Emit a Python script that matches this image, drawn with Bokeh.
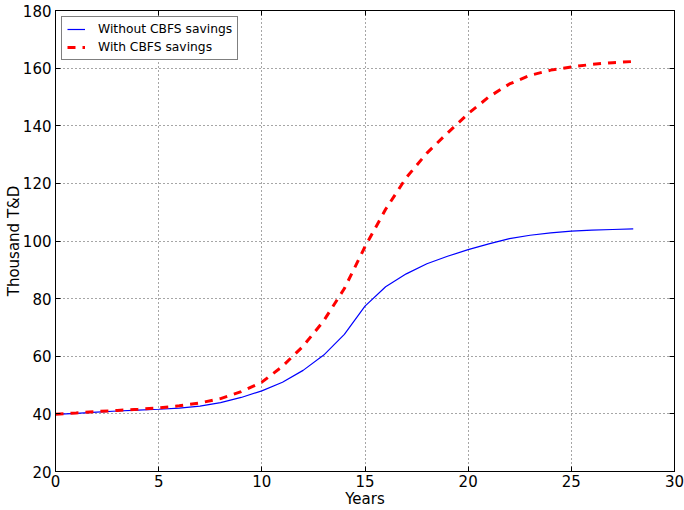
from bokeh.plotting import figure
from bokeh.models import LinearAxis, FixedTicker, Range1d, Legend, LegendItem
from bokeh.embed import file_html
from bokeh.resources import INLINE

years = list(range(0, 29))
without_cbfs = [39.8, 40.2, 40.6, 41.0, 41.3, 41.6, 42.0, 42.7, 43.9, 45.7,
                48.0, 51.0, 55.1, 60.4, 67.6, 77.4, 84.1, 88.6, 92.1, 94.7,
                97.0, 99.0, 100.8, 102.0, 102.8, 103.4, 103.8, 104.0, 104.2]
with_cbfs = [39.9, 40.3, 40.8, 41.2, 41.6, 42.1, 42.8, 43.8, 45.3, 47.7,
             51.0, 56.5, 63.5, 72.3, 83.5, 98.0, 111.0, 122.0, 130.5, 137.5,
             144.2, 150.0, 154.5, 157.5, 159.3, 160.4, 161.3, 161.9, 162.3]
x_ticks = [0, 5, 10, 15, 20, 25, 30]
y_ticks = [20, 40, 60, 80, 100, 120, 140, 160, 180]
x_label = "Years"
y_label = "Thousand T&D"
series_names = ["Without CBFS savings", "With CBFS savings"]

FONT = "DejaVu Sans"

p = figure(width=684, height=510, output_backend="svg", toolbar_location=None,
           x_range=Range1d(0, 30), y_range=Range1d(20, 180),
           min_border_left=55, min_border_right=10, min_border_top=10,
           min_border_bottom=39, background_fill_color="white",
           border_fill_color="white")
p.outline_line_color = "black"
p.outline_line_width = 1

r1 = p.line(years, without_cbfs, line_color="#0000ff", line_width=1.2)
r2 = p.line(years, with_cbfs, line_color="#ff0000", line_width=3, line_dash="8 7")

for ax in p.xaxis:
    ax.ticker = FixedTicker(ticks=x_ticks)
for ax in p.yaxis:
    ax.ticker = FixedTicker(ticks=y_ticks)

p.xaxis.axis_label = x_label
p.yaxis.axis_label = y_label

for ax in list(p.xaxis) + list(p.yaxis):
    ax.major_tick_in = 5
    ax.major_tick_out = 0
    ax.minor_tick_line_color = None
    ax.axis_line_color = "black"
    ax.major_tick_line_color = "black"
    ax.major_label_text_font = FONT
    ax.major_label_text_font_size = "15px"
    ax.major_label_text_color = "black"
    ax.axis_label_text_font = FONT
    ax.axis_label_text_font_size = "15px"
    ax.axis_label_text_font_style = "normal"
    ax.axis_label_text_color = "black"

p.xaxis.major_label_standoff = 3
p.xaxis.axis_label_standoff = 0
p.yaxis.major_label_standoff = 4
p.yaxis.axis_label_standoff = -3

top = LinearAxis(ticker=FixedTicker(ticks=x_ticks),
                 major_label_overrides={t: "" for t in x_ticks},
                 major_tick_in=5, major_tick_out=0, minor_tick_line_color=None,
                 major_label_standoff=0, axis_line_color="black")
right = LinearAxis(ticker=FixedTicker(ticks=y_ticks),
                   major_label_overrides={t: "" for t in y_ticks},
                   major_tick_in=5, major_tick_out=0, minor_tick_line_color=None,
                   major_label_standoff=0, axis_line_color="black")
p.add_layout(top, "above")
p.add_layout(right, "right")

p.grid.grid_line_color = "black"
p.grid.grid_line_alpha = 0.7
p.grid.grid_line_dash = "1 3"
p.grid.grid_line_width = 1
p.xgrid.ticker = FixedTicker(ticks=x_ticks)
p.ygrid.ticker = FixedTicker(ticks=y_ticks)

legend = Legend(items=[LegendItem(label=series_names[0], renderers=[r1]),
                       LegendItem(label=series_names[1], renderers=[r2])],
                location="top_left")
legend.margin = 6
legend.padding = 5
legend.spacing = 4
legend.glyph_width = 18
legend.glyph_height = 14
legend.label_height = 14
legend.label_standoff = 13
legend.label_text_font = FONT
legend.label_text_font_size = "12.3px"
legend.label_text_color = "black"
legend.border_line_color = "black"
legend.border_line_width = 1
legend.background_fill_alpha = 1
p.add_layout(legend)

open("out.html", "w").write(file_html(p, INLINE))
